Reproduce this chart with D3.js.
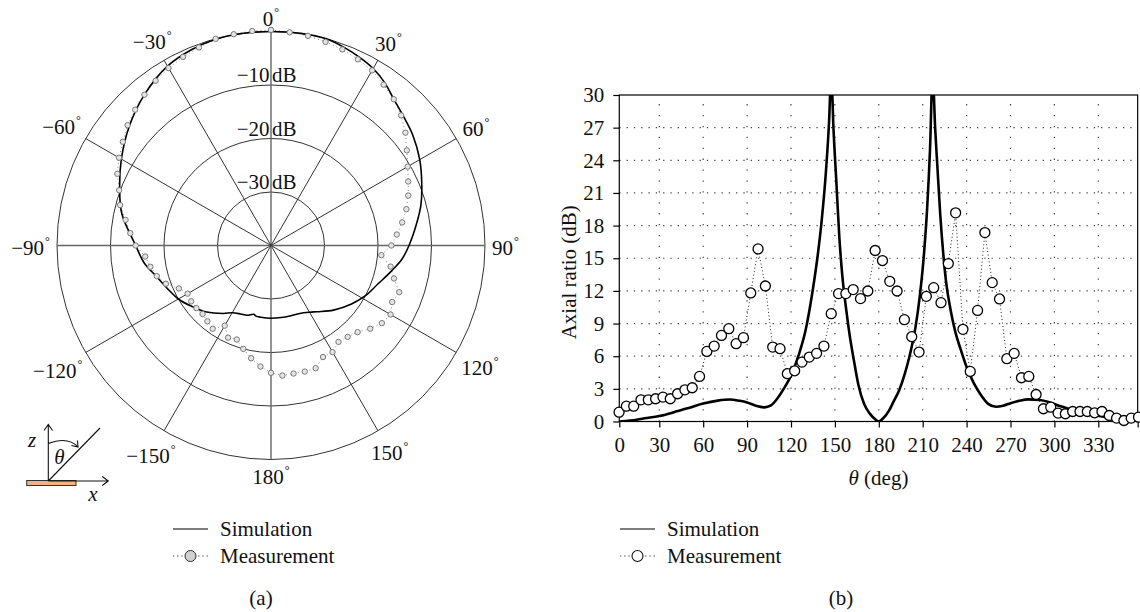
<!DOCTYPE html>
<html>
<head>
<meta charset="utf-8">
<script src="https://cdn.jsdelivr.net/npm/d3@7"></script>
<style>
  body { margin: 0; background: #fff; }
  svg { display: block; }
  text { font-family: "Liberation Serif", "Times New Roman", serif; fill: #111; }
</style>
</head>
<body>
<div id="plot"></div>
<script>
// (a) radiation pattern, angles in degrees clockwise from z, values in dB
const simPolarAng = [0, 8, 15, 20, 25, 30, 35, 40, 45, 52, 60, 68, 75, 82, 90, 96, 102, 110, 118, 126,
  136, 145, 150, 157, 165, 172, 180, 188, 192, 194, 199, 204, 210, 215, 224, 232, 240, 247, 255, 262,
  270, 282, 291, 300, 310, 320, 330, 338, 345, 352];
const simPolarDb = [0, 0.05, 0, -0.5, -1.1, -1.8, -2.9, -4.3, -5.3, -6.4, -7.9, -9.6, -11.0, -12.6, -14.2, -15.4, -17.0, -18.8, -20.0, -21.4,
  -23.2, -24.9, -25.6, -26.2, -26.35, -26.4, -26.4, -26.45, -26.5, -26.75, -26.2, -26.0, -25.5, -24.5, -22.7, -21.4, -20.0, -19.1, -17.8, -16.1,
  -14.7, -11.5, -9.7, -7.7, -5.4, -3.2, -1.3, -0.5, -0.1, 0];

const measPolarAng = [0, 5, 10, 15, 20, 25, 30, 35, 40, 45, 50, 55, 60, 65, 70, 75, 80, 85, 90, 95,
  100, 105, 110, 115, 120, 125, 130, 135, 140, 145, 150, 155, 160, 165, 170, 175, 180, 185, 190, 195,
  200, 205, 210, 215, 220, 225, 230, 235, 240, 245, 250, 255, 260, 265, 270, 275, 280, 285, 290, 295,
  300, 305, 310, 315, 320, 325, 330, 335, 340, 345, 350, 355];
const measPolarDb = [0.3, 0.0, -0.2, -0.6, -1.0, -1.6, -2.2, -3.3, -4.3, -5.6, -7.2, -9.0, -10.5, -11.7, -12.7, -13.8, -15.1, -16.4, -17.5, -19.3,
  -17.3, -16.2, -14.5, -15.0, -14.2, -14.7, -15.8, -17.1, -17.7, -18.0, -17.0, -17.0, -15.6, -15.6, -15.7, -15.6, -16.2, -17.3, -18.6, -20.0,
  -21.3, -21.0, -22.7, -21.0, -21.5, -21.9, -21.8, -21.8, -22.0, -21.0, -19.1, -17.9, -17.1, -16.4, -14.7, -13.6, -12.4, -10.8, -9.8, -8.3,
  -7.2, -6.2, -5.0, -4.1, -3.2, -2.4, -1.7, -1.1, -0.6, 0.0, 0.1, 0.25];

const ringDb = [-30, -20, -10, 0];
const spokeAng = [0, 30, 60, 90, 120, 150, 180, 210, 240, 270, 300, 330];

// (b) axial ratio vs theta
const simArAng = [2.7, 10, 20, 30, 40, 50, 60, 70, 78, 85, 90, 96, 102, 106, 110, 115, 120, 125, 130, 135,
  138, 141, 144, 146, 147.5, 149, 151, 153, 155, 158, 160, 163, 166, 170, 174, 178, 180, 183, 187, 190,
  194, 198, 201, 205, 208, 211, 213, 215, 216.8, 218.5, 220, 222, 224, 226, 229, 232, 236, 240, 245, 250,
  255, 260, 265, 270, 276, 282, 290, 296, 302, 308, 314, 320, 327, 335, 343, 350, 357];
const simArDb = [0, 0.08, 0.3, 0.5, 0.85, 1.25, 1.65, 1.92, 2.02, 1.9, 1.75, 1.45, 1.3, 1.45, 2.0, 3.0, 4.2, 6.0, 8.4, 12.2,
  15.0, 18.5, 23.2, 27.5, 32, 27, 22, 17, 13.5, 10, 8.0, 5.6, 3.4, 1.6, 0.7, 0.15, 0, 0.3, 1.0, 1.8,
  2.9, 4.5, 6.0, 8.6, 11.5, 15.6, 19.5, 25, 32, 27, 23.5, 19, 15.5, 12.8, 10.3, 8.4, 6.6, 5.0, 3.5, 2.4,
  1.6, 1.35, 1.45, 1.68, 1.9, 2.03, 1.98, 1.8, 1.5, 1.25, 1.0, 0.8, 0.6, 0.42, 0.28, 0.15, 0];

const measArAng = [2.5, 7.5, 12.5, 17.5, 22.5, 27.5, 32.5, 37.5, 42.5, 47.5, 52.5, 57.5, 62.5, 67.5, 72.5, 77.5, 82.5, 87.5, 92.5, 97.5,
  102.5, 107.5, 112.5, 117.5, 122.5, 127.5, 132.5, 137.5, 142.5, 147.5, 152.5, 157.5, 162.5, 167.5, 172.5, 177.5, 182.5, 187.5, 192.5, 197.5,
  202.5, 207.5, 212.5, 217.5, 222.5, 227.5, 232.5, 237.5, 242.5, 247.5, 252.5, 257.5, 262.5, 267.5, 272.5, 277.5, 282.5, 287.5, 292.5, 297.5,
  302.5, 307.5, 312.5, 317.5, 322.5, 327.5, 332.5, 337.5, 342.5, 347.5, 352.5, 357.5];
const measArDb = [0.86, 1.41, 1.41, 1.99, 1.99, 2.09, 2.24, 2.09, 2.55, 2.91, 3.10, 4.14, 6.44, 6.93, 7.91, 8.53, 7.15, 7.70, 11.81, 15.86,
  12.45, 6.84, 6.69, 4.39, 4.66, 5.46, 5.92, 6.26, 6.93, 9.91, 11.75, 11.75, 12.12, 11.29, 11.99, 15.71, 14.79, 12.88, 11.99, 9.36,
  7.79, 6.38, 11.50, 12.30, 10.92, 14.51, 19.17, 8.47, 4.60, 10.21, 17.36, 12.76, 11.26, 5.77, 6.26, 4.02, 4.14, 2.48, 1.17, 1.32,
  0.77, 0.71, 0.92, 0.92, 0.92, 0.80, 0.92, 0.55, 0.31, 0.09, 0.31, 0.40];

const xTicks = [30, 60, 90, 120, 150, 180, 210, 240, 270, 300, 330];
const yTicks = [0, 3, 6, 9, 12, 15, 18, 21, 24, 27, 30];

const width = 1140;
const height = 612;
const fs = "21px";
const rad = d => d * Math.PI / 180;
const fmtMinus = v => String(v).replace("-", "\u2212");

const svg = d3.select("#plot")
  .append("svg")
  .attr("width", width)
  .attr("height", height);

// ---------- (a) polar plot ----------
const cx = 271, cy = 245.5, R = 214;
const r = d3.scaleLinear().domain([-40, 0]).range([0, R]);

const polar = svg.append("g").attr("transform", `translate(${cx},${cy})`);

polar.selectAll("circle.ring")
  .data(ringDb)
  .join("circle")
  .attr("class", "ring")
  .attr("r", d => r(d))
  .attr("fill", "none")
  .attr("stroke", "#333")
  .attr("stroke-width", 1);

polar.selectAll("line.spoke")
  .data(spokeAng)
  .join("line")
  .attr("class", "spoke")
  .attr("x1", 0).attr("y1", 0)
  .attr("x2", d => R * Math.sin(rad(d)))
  .attr("y2", d => -R * Math.cos(rad(d)))
  .attr("stroke", d => d % 90 === 0 ? "#666" : "#333")
  .attr("stroke-width", d => d % 90 === 0 ? 1.4 : 1);

// ring labels, the number left of the vertical axis and "dB" right of it
const ringLab = ringDb.filter(d => d < 0);
polar.selectAll("text.ringnum")
  .data(ringLab)
  .join("text")
  .attr("class", "ringnum")
  .attr("x", -1.5)
  .attr("y", d => -r(d) - 3)
  .attr("text-anchor", "end")
  .style("font-size", fs)
  .text(d => fmtMinus(d));
polar.selectAll("text.ringdb")
  .data(ringLab)
  .join("text")
  .attr("class", "ringdb")
  .attr("x", 1)
  .attr("y", d => -r(d) - 3)
  .style("font-size", fs)
  .text("dB");

// angle labels placed so their box sits just outside the outer ring
spokeAng.forEach(a => {
  const lab = a <= 180 ? a : a - 360;
  const t = polar.append("text")
    .style("font-size", fs)
    .attr("text-anchor", "middle")
    .attr("dominant-baseline", "central");
  t.append("tspan").text(fmtMinus(lab));
  t.append("tspan").attr("dx", 1).attr("dy", -7).style("font-size", "12px").text("\u00b0");
  const bb = t.node().getBBox();
  const s = Math.sin(rad(a)), c = Math.cos(rad(a));
  const rl = 221 + (bb.width / 2) * Math.abs(s) + 8 * Math.abs(c);
  t.attr("transform", `translate(${rl * s},${-rl * c + 2})`);
});

const simPolar = simPolarAng.map((a, i) => ({a, v: simPolarDb[i]}));
const measPolar = measPolarAng.map((a, i) => ({a, v: measPolarDb[i]}));

const radialSim = d3.lineRadial()
  .angle(d => rad(d.a))
  .radius(d => r(d.v))
  .curve(d3.curveCatmullRomClosed);

const radialMeas = d3.lineRadial()
  .angle(d => rad(d.a))
  .radius(d => r(d.v))
  .curve(d3.curveLinearClosed);

polar.append("path")
  .datum(measPolar)
  .attr("d", radialMeas)
  .attr("fill", "none")
  .attr("stroke", "#888")
  .attr("stroke-width", 1)
  .attr("stroke-dasharray", "1,3");

polar.append("path")
  .datum(simPolar)
  .attr("d", radialSim)
  .attr("fill", "none")
  .attr("stroke", "#000")
  .attr("stroke-width", 1.6);

polar.selectAll("circle.mp")
  .data(measPolar)
  .join("circle")
  .attr("class", "mp")
  .attr("cx", d => r(d.v) * Math.sin(rad(d.a)))
  .attr("cy", d => -r(d.v) * Math.cos(rad(d.a)))
  .attr("r", 2.7)
  .attr("fill", "#e4e4e4")
  .attr("stroke", "#7a7a7a")
  .attr("stroke-width", 1);

// coordinate inset
const inset = svg.append("g");
const ox = 48.3, oy = 481;
inset.append("rect")
  .attr("x", 26.7).attr("y", oy - 0.5)
  .attr("width", 49.3).attr("height", 5)
  .attr("fill", "#f4b183")
  .attr("stroke", "#333")
  .attr("stroke-width", 1);
inset.append("path")
  .attr("d", `M${ox},${oy}V424.5M44,430.5L${ox},424.5L52.6,430.5` +
             `M${ox},${oy}H108.3M102.3,476.5L108.3,${oy}L102.3,485.5` +
             `M${ox},${oy}L100,428` +
             `M${ox},443.5Q68,436 78,447M71.5,445.5L78,447L77.5,440.5`)
  .attr("fill", "none")
  .attr("stroke", "#111")
  .attr("stroke-width", 1.1);
inset.append("text").attr("x", 32).attr("y", 447).attr("text-anchor", "middle")
  .style("font-size", fs).style("font-style", "italic").text("z");
inset.append("text").attr("x", 59.5).attr("y", 464).attr("text-anchor", "middle")
  .style("font-size", fs).style("font-style", "italic").text("\u03b8");
inset.append("text").attr("x", 93).attr("y", 501).attr("text-anchor", "middle")
  .style("font-size", fs).style("font-style", "italic").text("x");

// legend (a)
const legA = svg.append("g");
legA.append("line").attr("x1", 173).attr("x2", 208).attr("y1", 529).attr("y2", 529)
  .attr("stroke", "#000").attr("stroke-width", 1.2);
legA.append("text").attr("x", 220).attr("y", 536).style("font-size", fs).text("Simulation");
legA.append("line").attr("x1", 173).attr("x2", 208).attr("y1", 556).attr("y2", 556)
  .attr("stroke", "#333").attr("stroke-width", 1).attr("stroke-dasharray", "1.2,3");
legA.append("circle").attr("cx", 190.5).attr("cy", 556).attr("r", 5.5)
  .attr("fill", "#d0d0d0").attr("stroke", "#333").attr("stroke-width", 1);
legA.append("text").attr("x", 220).attr("y", 563).style("font-size", fs).text("Measurement");
svg.append("text").attr("x", 261).attr("y", 605).attr("text-anchor", "middle")
  .style("font-size", fs).text("(a)");

// ---------- (b) axial ratio ----------
const x = d3.scaleLinear().domain([0, 360]).range([615.4, 1142.2]);
const y = d3.scaleLinear().domain([0, 30]).range([421.5, 95]);
const plotL = x(2.65), plotR = x(356.9);

const chart = svg.append("g");

chart.append("defs").append("clipPath").attr("id", "clipB")
  .append("rect")
  .attr("x", plotL).attr("y", y(30))
  .attr("width", plotR - plotL).attr("height", y(0) - y(30));

// dotted grid
chart.selectAll("line.vgrid")
  .data(xTicks)
  .join("line")
  .attr("class", "vgrid")
  .attr("x1", d => x(d)).attr("x2", d => x(d))
  .attr("y1", y(0)).attr("y2", y(30))
  .attr("stroke", "#444")
  .attr("stroke-width", 1.2)
  .attr("stroke-dasharray", "1.3,9.6");

chart.selectAll("line.hgrid")
  .data(yTicks.slice(1, -1))
  .join("line")
  .attr("class", "hgrid")
  .attr("x1", plotL).attr("x2", plotR)
  .attr("y1", d => y(d)).attr("y2", d => y(d))
  .attr("stroke", "#444")
  .attr("stroke-width", 1.2)
  .attr("stroke-dasharray", "1.3,6");

// frame
chart.append("rect")
  .attr("x", plotL).attr("y", y(30))
  .attr("width", plotR - plotL).attr("height", y(0) - y(30))
  .attr("fill", "none")
  .attr("stroke", "#000")
  .attr("stroke-width", 1.2);

// axes
const xAxis = chart.append("g")
  .attr("transform", `translate(0,${y(0)})`)
  .call(d3.axisBottom(x)
    .tickValues([2.65, ...xTicks, 356.9])
    .tickSize(6)
    .tickPadding(10)
    .tickFormat(d => d === 2.65 ? "0" : (d === 356.9 ? "" : d)));
xAxis.select(".domain").remove();

const yAxis = chart.append("g")
  .attr("transform", `translate(${plotL},0)`)
  .call(d3.axisLeft(y).tickValues(yTicks).tickSize(6).tickPadding(9));
yAxis.select(".domain").remove();

chart.selectAll(".tick line").attr("stroke", "#000").attr("stroke-width", 1.2);
chart.selectAll(".tick text")
  .style("font-family", '"Liberation Serif", "Times New Roman", serif')
  .style("font-size", fs)
  .attr("fill", "#111");

// axis titles
chart.append("text")
  .attr("transform", `translate(576,${(y(0) + y(30)) / 2 + 14}) rotate(-90)`)
  .attr("text-anchor", "middle")
  .style("font-size", fs)
  .text("Axial ratio (dB)");

const xt = chart.append("text")
  .attr("x", (plotL + plotR) / 2)
  .attr("y", 485)
  .attr("text-anchor", "middle")
  .style("font-size", fs);
xt.append("tspan").style("font-style", "italic").text("\u03b8");
xt.append("tspan").text(" (deg)");

const simAr = simArAng.map((a, i) => ({a, v: simArDb[i]}));
const measAr = measArAng.map((a, i) => ({a, v: measArDb[i]}));

chart.append("path")
  .datum(measAr)
  .attr("d", d3.line().x(d => x(d.a)).y(d => y(d.v)))
  .attr("fill", "none")
  .attr("stroke", "#222")
  .attr("stroke-width", 1)
  .attr("stroke-dasharray", "1,2.5");

chart.append("path")
  .datum(simAr)
  .attr("clip-path", "url(#clipB)")
  .attr("d", d3.line().x(d => x(d.a)).y(d => y(d.v)).curve(d3.curveMonotoneX))
  .attr("fill", "none")
  .attr("stroke", "#000")
  .attr("stroke-width", 2.6);

chart.selectAll("circle.ma")
  .data(measAr)
  .join("circle")
  .attr("class", "ma")
  .attr("cx", d => x(d.a))
  .attr("cy", d => y(d.v))
  .attr("r", 5)
  .attr("fill", "#fff")
  .attr("stroke", "#000")
  .attr("stroke-width", 1.3);

// legend (b)
const legB = svg.append("g");
legB.append("line").attr("x1", 620).attr("x2", 655).attr("y1", 529).attr("y2", 529)
  .attr("stroke", "#000").attr("stroke-width", 1.2);
legB.append("text").attr("x", 667).attr("y", 536).style("font-size", fs).text("Simulation");
legB.append("line").attr("x1", 620).attr("x2", 655).attr("y1", 556).attr("y2", 556)
  .attr("stroke", "#333").attr("stroke-width", 1).attr("stroke-dasharray", "1.2,3");
legB.append("circle").attr("cx", 637.5).attr("cy", 556).attr("r", 5.5)
  .attr("fill", "#fff").attr("stroke", "#111").attr("stroke-width", 1.1);
legB.append("text").attr("x", 667).attr("y", 563).style("font-size", fs).text("Measurement");
svg.append("text").attr("x", 841).attr("y", 605).attr("text-anchor", "middle")
  .style("font-size", fs).text("(b)");
</script>
</body>
</html>
